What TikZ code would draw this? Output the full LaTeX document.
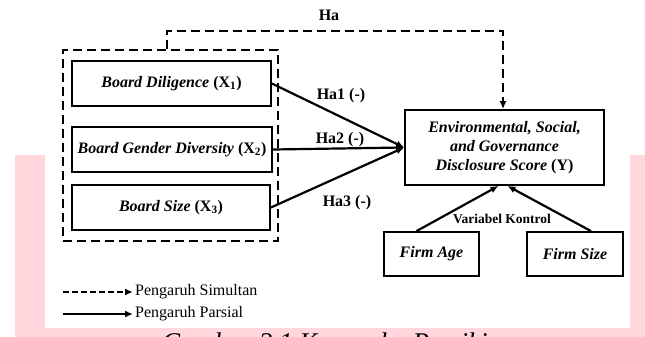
\documentclass[tikz,border=0pt]{standalone}
\usepackage{fontspec}
\setmainfont{Liberation Serif}
\usetikzlibrary{arrows.meta,calc}

\definecolor{bandpink}{RGB}{255,215,221}

\tikzset{
    varbox/.style={draw, line width=1.8pt, font=\bfseries\itshape\fontsize{16}{19}\selectfont,
        align=center, inner sep=0pt},
    grpbox/.style={draw, line width=2.2pt, dash pattern=on 9pt off 5pt},
    parsial/.style={line width=2.2pt, -{Latex[length=8pt,width=7pt]}},
    simultan/.style={line width=2.4pt, dash pattern=on 9pt off 5pt, -{Latex[length=8pt,width=7pt]}},
    hlabel/.style={font=\bfseries\fontsize{16}{18}\selectfont, inner sep=0pt},
    legtext/.style={font=\fontsize{16}{18}\selectfont, anchor=west, inner sep=0pt},
}

\begin{document}
\begin{tikzpicture}[x=1pt, y=-1pt]
        \useasboundingbox (0, 0) rectangle (645, 337);
        \clip (0, 0) rectangle (645, 337);

        % pink band behind the figure
        \fill[bandpink] (15, 155) rectangle (645, 337);
        \fill[white] (45, 0) rectangle (630, 328);

        % independent variables
        \node[grpbox, minimum width=215pt, minimum height=191pt] (grp) at (170.5, 145.5) {};
        \node[varbox, minimum width=199pt, minimum height=45pt] (dil) at (171.5, 83.5)
            {Board Diligence \textup{(X\textsubscript{1})}};
        \node[varbox, minimum width=200pt, minimum height=45pt] (gen) at (172, 149.5)
            {Board Gender Diversity \textup{(X\textsubscript{2})}};
        \node[varbox, minimum width=198pt, minimum height=45pt] (siz) at (171, 207.5)
            {Board Size \textup{(X\textsubscript{3})}};

        % dependent variable
        \node[varbox, minimum width=199pt, minimum height=75pt] (esg) at (504.5, 147.5)
            {Environmental, Social,\\and Governance\\Disclosure Score \textup{(Y)}};

        % control variables
        \node[varbox, minimum width=95pt, minimum height=44pt] (age) at (431.5, 254) {Firm Age};
        \node[varbox, minimum width=96pt, minimum height=44pt] (fsz) at (575, 254) {Firm Size};

        % simultaneous path
        \coordinate (hal) at (167, 31);
        \coordinate (har) at (503, 31);
        \draw[simultan] (hal |- grp.north) -- (hal) -- (har) -- (har |- esg.north);
        \node[hlabel] (ha) at (329, 15) {Ha};

        % partial paths
        \draw[parsial] (dil.east) -- (esg.west);
        \draw[parsial] (gen.east) -- (esg.west);
        \draw[parsial] (siz.east) -- (esg.west);
        \node[hlabel] (ha1) at (341, 96) {Ha1 (-)};
        \node[hlabel] (ha2) at (340, 140) {Ha2 (-)};
        \node[hlabel] (ha3) at (347, 203) {Ha3 (-)};

        \draw[parsial] ([xshift=-15pt]age.north) -- ([xshift=-6pt]esg.south);
        \draw[parsial] ([xshift=16pt]fsz.north) -- ([xshift=3pt]esg.south);
        \node[hlabel, font=\bfseries\fontsize{13.5}{15}\selectfont] (ctl) at (502, 219) {Variabel Kontrol};

        % legend
        \coordinate (l1a) at (63, 292);
        \coordinate (l1b) at (133, 292);
        \coordinate (l2a) at (63, 314);
        \coordinate (l2b) at (133, 314);
        \draw[simultan, line width=2.2pt, dash pattern=on 6pt off 3pt] (l1a) -- (l1b);
        \draw[parsial] (l2a) -- (l2b);
        \node[legtext] (lg1) at (135, 292) {Pengaruh Simultan};
        \node[legtext] (lg2) at (135, 314) {Pengaruh Parsial};

        % caption, cut by the page edge
        \node[font=\itshape\fontsize{27}{30}\selectfont, anchor=base west, inner sep=0pt] (cap)
            at (162, 351) {Gambar 2.1 Kerangka Pemikiran};
    \end{tikzpicture}
\end{document}
